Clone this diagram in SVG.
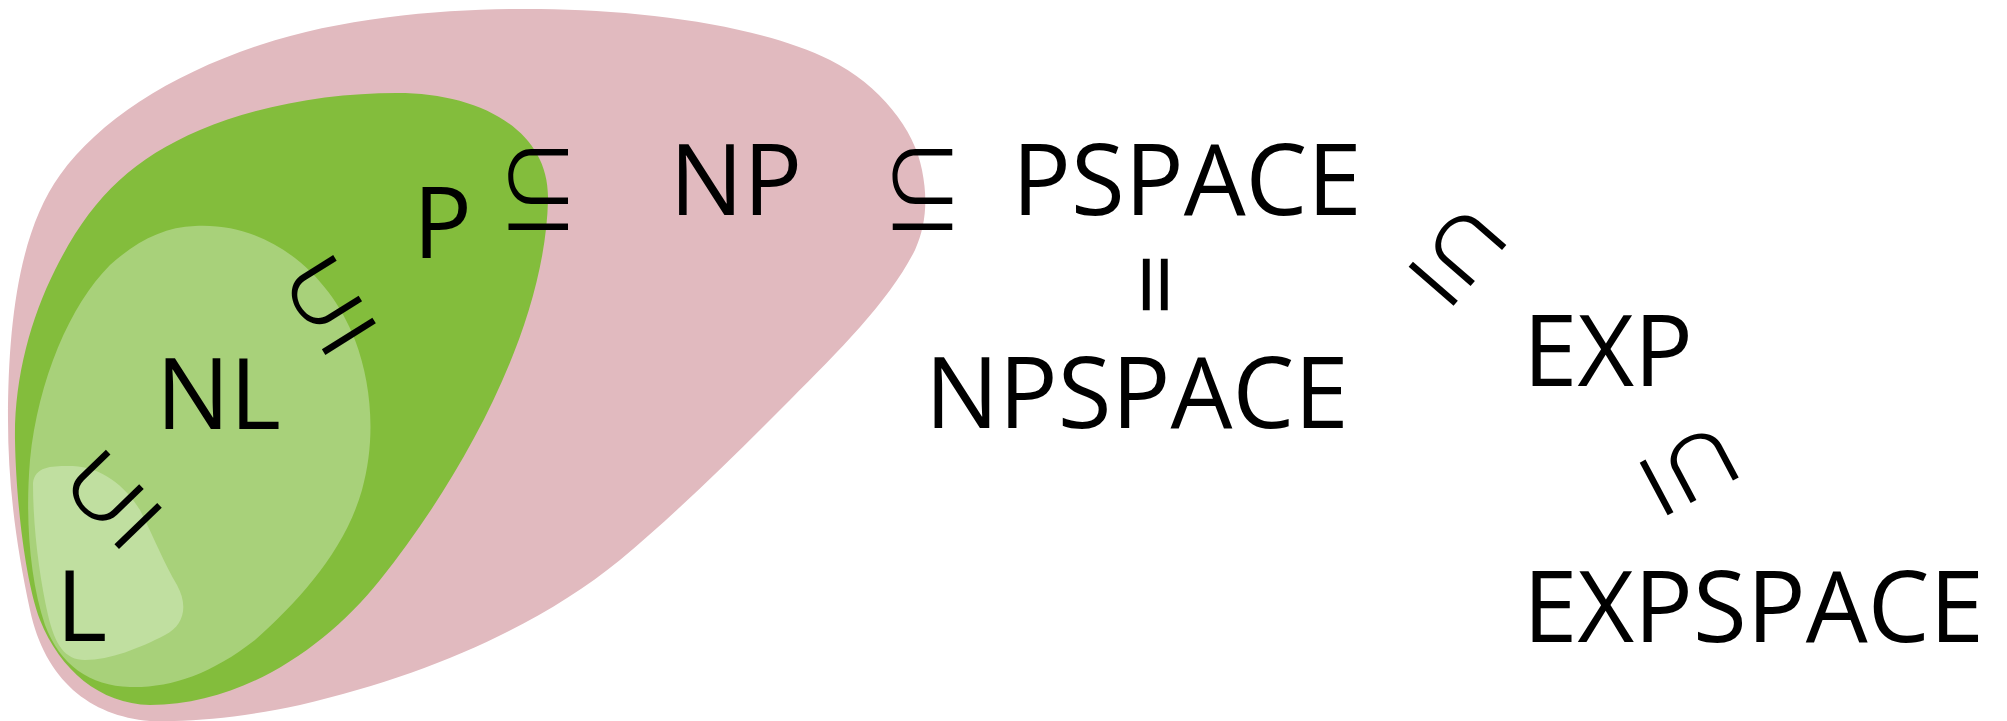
<svg xmlns="http://www.w3.org/2000/svg" width="2007" height="721" viewBox="0 0 2007 721">
<style>
.lbl{font-family:"Open Sans","Noto Sans","Liberation Sans",sans-serif;font-size:98px;fill:#000}
.rel{font-family:"Noto Sans CJK JP","Noto Sans CJK SC",sans-serif;font-weight:340;font-size:80px;fill:#000;text-anchor:middle;dominant-baseline:central}
.eq{font-family:"DejaVu Sans",sans-serif;font-weight:200;font-size:80px;fill:#000;stroke:#000;stroke-width:1.6;text-anchor:middle;dominant-baseline:central}
</style>
<rect width="2007" height="721" fill="#ffffff"/>
<g id="region-NP"><path fill="#e1babf" d="M150,721 C90,716 45,680 30,610 C15,540 8,480 8,420 C8,320 20,230 60,175 C100,120 170,75 260,45 C350,15 460,8 540,9 C640,10 760,25 830,60 C880,85 915,130 922,170 C928,200 926,225 915,250 C890,300 840,350 790,400 C740,450 680,510 620,560 C540,625 430,675 300,705 C240,718 190,722 150,721 Z"/></g>
<g id="region-P"><path fill="#83bd3c" d="M397,93 C480,93 550,130 548,200 C545,330 460,480 380,580 C324,650 240,705 150,705 C100,704 60,670 40,620 C25,580 16,500 15,440 C14,380 30,320 55,270 C90,200 130,160 200,130 C260,105 330,93 397,93 Z"/></g>
<g id="region-NL"><path fill="#a8d17a" d="M195,226 C270,222 330,275 355,340 C372,385 376,440 362,490 C345,550 300,600 255,640 C210,675 170,688 130,687 C90,686 60,665 45,625 C30,580 25,520 30,460 C38,380 70,305 110,265 C138,240 165,227 195,226 Z"/></g>
<g id="region-L"><path fill="#c0dfa0" d="M33,483 C35,465 55,466 73,466 C100,467 125,485 140,510 C155,540 165,565 177,585 C188,605 185,625 165,635 C140,648 110,660 85,660 C65,660 55,645 48,615 C40,580 33,530 33,483 Z"/></g>
<g id="node-L"><text class="lbl" x="56" y="641">L</text></g>
<g id="node-NL"><text class="lbl" x="156" y="429">NL</text></g>
<g id="node-P"><text class="lbl" x="413" y="258">P</text></g>
<g id="node-NP"><text class="lbl" x="669.5" y="215">NP</text></g>
<g id="node-PSPACE"><text class="lbl" x="1012" y="215">PSPACE</text></g>
<g id="node-NPSPACE"><text class="lbl" x="925" y="428">NPSPACE</text></g>
<g id="node-EXP"><text class="lbl" x="1523" y="386">EXP</text></g>
<g id="node-EXPSPACE"><text class="lbl" x="1523" y="642">EXPSPACE</text></g>
<g id="connectors">
<g transform="translate(112.6,499.5) rotate(-44) scale(1,1.3)"><text class="rel" y="-5">⊆</text></g>
<g transform="translate(329.3,305.1) rotate(-32) scale(1,1.3)"><text class="rel" y="-5">⊆</text></g>
<g transform="translate(538.3,190) scale(1,1.3)"><text class="rel" y="-5">⊆</text></g>
<g transform="translate(922.5,190.3) scale(1,1.3)"><text class="rel" y="-5">⊆</text></g>
<g transform="translate(1153.4,284.5) rotate(90) scale(1,1.42)"><text class="eq" y="-3.5">=</text></g>
<g transform="translate(1457.4,255.9) rotate(41) scale(1,1.3)"><text class="rel" y="-5">⊆</text></g>
<g transform="translate(1689,470.1) rotate(62) scale(1,1.3)"><text class="rel" y="-5">⊆</text></g>
</g>
</svg>
